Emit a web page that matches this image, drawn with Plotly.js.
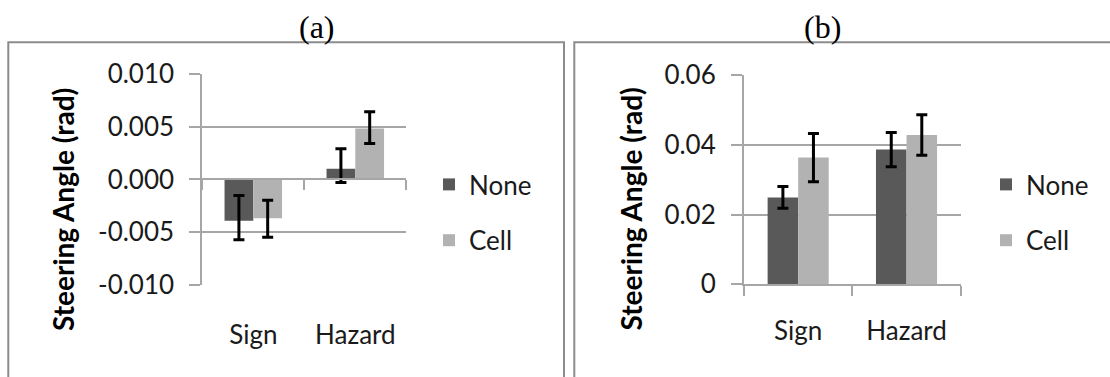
<!DOCTYPE html>
<html>
<head>
<meta charset="utf-8">
<script src="https://cdn.plot.ly/plotly-3.0.1.min.js"></script>
<style>html,body{margin:0;padding:0;background:#fff;}#chart{width:1110px;height:377px;}</style>
</head>
<body>
<div id="chart"></div>
<script>
// ---- data ----
const categories = ['Sign', 'Hazard'];
const seriesNames = ['None', 'Cell'];
const panelTitles = ['(a)', '(b)'];
const yTitle = 'Steering Angle (rad)';

// panel (a)
const aNone = [-0.00392, 0.00101];
const aNoneErrUp = [0.0024, 0.0019];
const aNoneErrDown = [0.0018, 0.0013];
const aCell = [-0.00368, 0.00481];
const aCellErrUp = [0.0017, 0.0016];
const aCellErrDown = [0.0018, 0.0014];
const aRange = [-0.010, 0.010];
const aTickVals = [-0.010, -0.005, 0, 0.005, 0.010];
const aTickText = ['-0.010', '-0.005', '0.000', '0.005', '0.010'];

// panel (b)
const bNone = [0.0249, 0.0386];
const bNoneErr = [0.0031, 0.0049];
const bCell = [0.0363, 0.0428];
const bCellErr = [0.0069, 0.0058];
const bRange = [0, 0.06];
const bTickVals = [0, 0.02, 0.04, 0.06];
const bTickText = ['0', '0.02', '0.04', '0.06'];

// ---- style ----
const W = 1110, H = 377;
const colNone = '#595959', colCell = '#b2b2b2';
const gridCol = '#a6a6a6';
const frameCol = '#8c8c8c';
const FONT = 'Lato, "Noto Sans", sans-serif';
const textCol = '#1a1a1a';
const px = v => v / W, py = v => 1 - v / H;

const aXDom = [px(202.3), px(406.3)], aYDom = [py(285), py(73.8)];
const bXDom = [px(744), px(960.7)], bYDom = [py(284.3), py(74.9)];

const boundaries = categories.map((c, i) => i - 0.5).concat([categories.length - 0.5]);
const zeroPos = aYDom[0] + (0 - aRange[0]) / (aRange[1] - aRange[0]) * (aYDom[1] - aYDom[0]);

function err(up, down) {
  const e = {type: 'data', color: '#000', thickness: 3, width: 5.5, visible: true};
  if (down) { e.symmetric = false; e.array = up; e.arrayminus = down; }
  else { e.symmetric = true; e.array = up; }
  return e;
}
function bar(name, y, color, e, xa, ya, leg) {
  return {type: 'bar', name: name, x: categories, y: y, xaxis: xa, yaxis: ya,
    marker: {color: color, line: {width: 0}}, error_y: e, legend: leg,
    legendgroup: leg + name, hoverinfo: 'none'};
}

const traces = [
  bar(seriesNames[0], aNone, colNone, err(aNoneErrUp, aNoneErrDown), 'x', 'y', 'legend'),
  bar(seriesNames[1], aCell, colCell, err(aCellErrUp, aCellErrDown), 'x', 'y', 'legend'),
  bar(seriesNames[0], bNone, colNone, err(bNoneErr), 'x2', 'y2', 'legend2'),
  bar(seriesNames[1], bCell, colCell, err(bCellErr), 'x2', 'y2', 'legend2'),
  {type: 'scatter', x: [], y: [], xaxis: 'x3', yaxis: 'y', showlegend: false, hoverinfo: 'none'}
];

const tickFont = {family: FONT, size: 26, color: textCol};
function yAxis(dom, anchor, range, tv, tt) {
  return {domain: dom, anchor: anchor, range: range, autorange: false,
    tickmode: 'array', tickvals: tv, ticktext: tt,
    showgrid: true, gridcolor: gridCol, gridwidth: 2,
    showline: true, linecolor: gridCol, linewidth: 2,
    ticks: 'outside', ticklen: 11, tickwidth: 2, tickcolor: gridCol,
    zeroline: false, tickfont: tickFont, ticklabelstandoff: 10, fixedrange: true};
}
function legend(xLeft) {
  return {x: xLeft, xanchor: 'left', y: py(161), yanchor: 'top',
    font: {family: FONT, size: 26, color: textCol}, traceorder: 'grouped',
    tracegroupgap: 19, bgcolor: 'rgba(0,0,0,0)', borderwidth: 0};
}

const layout = {
  width: W, height: H, margin: {l: 0, r: 0, t: 0, b: 0},
  paper_bgcolor: '#fff', plot_bgcolor: 'rgba(0,0,0,0)',
  barmode: 'group', bargap: 0.436, bargroupgap: 0,
  font: {family: FONT, color: textCol},
  xaxis: {domain: aXDom, anchor: 'y', type: 'category', categoryarray: categories,
    showline: false, ticks: '', showgrid: false, tickfont: tickFont,
    ticklabelstandoff: 32, fixedrange: true},
  xaxis3: {overlaying: 'x', anchor: 'free', position: zeroPos, type: 'linear',
    range: [-0.5, categories.length - 0.5], autorange: false,
    tickmode: 'array', tickvals: boundaries, showticklabels: false,
    ticks: 'outside', ticklen: 10, tickwidth: 2, tickcolor: gridCol,
    showline: true, linecolor: gridCol, linewidth: 2, showgrid: false, zeroline: false, fixedrange: true},
  yaxis: yAxis(aYDom, 'x', aRange, aTickVals, aTickText),
  xaxis2: {domain: bXDom, anchor: 'y2', type: 'category', categoryarray: categories,
    showline: true, linecolor: gridCol, linewidth: 2,
    tickson: 'boundaries', ticks: 'outside', ticklen: 10, tickwidth: 2, tickcolor: gridCol,
    showgrid: false, tickfont: tickFont, ticklabelstandoff: 22, fixedrange: true},
  yaxis2: yAxis(bYDom, 'x2', bRange, bTickVals, bTickText),
  legend: legend(px(429)),
  legend2: legend(px(986)),
  annotations: [
    {text: panelTitles[0], xref: 'paper', yref: 'paper', x: px(317), y: py(26.5),
      xanchor: 'center', yanchor: 'middle', showarrow: false,
      font: {family: '"Liberation Serif", "Times New Roman", serif', size: 32, color: '#000'}},
    {text: panelTitles[1], xref: 'paper', yref: 'paper', x: px(822.3), y: py(26.5),
      xanchor: 'center', yanchor: 'middle', showarrow: false,
      font: {family: '"Liberation Serif", "Times New Roman", serif', size: 32, color: '#000'}},
    {text: '<b>' + yTitle + '</b>', xref: 'paper', yref: 'paper', x: px(62.5), y: py(209.5),
      xanchor: 'center', yanchor: 'middle', textangle: -90, showarrow: false,
      font: {family: FONT, size: 28, color: '#000'}},
    {text: '<b>' + yTitle + '</b>', xref: 'paper', yref: 'paper', x: px(630), y: py(209.5),
      xanchor: 'center', yanchor: 'middle', textangle: -90, showarrow: false,
      font: {family: FONT, size: 28, color: '#000'}}
  ],
  shapes: [
    {type: 'rect', xref: 'paper', yref: 'paper', x0: px(8.3), x1: px(564), y0: -0.1, y1: py(42.3),
      line: {color: frameCol, width: 2}, layer: 'below'},
    {type: 'rect', xref: 'paper', yref: 'paper', x0: px(574.3), x1: 1.1, y0: -0.1, y1: py(42.3),
      line: {color: frameCol, width: 2}, layer: 'below'}
  ]
};

Plotly.newPlot('chart', traces, layout, {staticPlot: true, displayModeBar: false});
</script>
</body>
</html>
